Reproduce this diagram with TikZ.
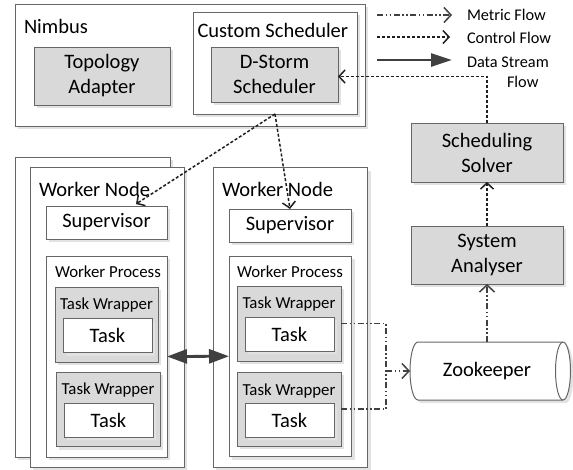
\documentclass[tikz,border=0pt]{standalone}
\usepackage{fontspec}
\setmainfont{Carlito}
\usetikzlibrary{arrows.meta,shadows}
\definecolor{bcol}{HTML}{666666}
\definecolor{gcol}{HTML}{D9D9D9}
\definecolor{shcol}{HTML}{E2E2E2}
\definecolor{lcol}{HTML}{1F1F1F}
\definecolor{dcol}{HTML}{404040}
\newcommand{\rb}[5]{\node[#1, minimum width={(#4)-(#2)}, minimum height={(#5)-(#3)}] at ({((#2)+(#4))/2},{((#3)+(#5))/2})}
\tikzset{
  bigf/.style={font=\fontsize{20.5}{25}\selectfont},
  smallf/.style={font=\fontsize{16.8}{20}\selectfont},
  legf/.style={font=\fontsize{16.3}{20}\selectfont},
  box/.style={draw=bcol, line width=1pt, fill=white, inner sep=0pt, outer sep=0pt,
    align=center, bigf,
    drop shadow={shadow xshift=3pt, shadow yshift=-3pt, fill=shcol, opacity=1}},
  gbox/.style={box, fill=gcol},
  title/.style={inner sep=0pt, outer sep=0pt, anchor=base west, bigf},
  stitle/.style={inner sep=0pt, outer sep=0pt, anchor=base, smallf},
  control/.style={draw=lcol, line width=1.5pt, dash pattern=on 3pt off 2pt,
    -{Straight Barb[length=6pt,width=13pt,line width=1.5pt]}},
  metric/.style={draw=dcol, line width=1.5pt,
    dash pattern=on 6pt off 2.5pt on 1.5pt off 2.5pt on 1.5pt off 2.5pt},
  metricarrow/.style={metric, -{Straight Barb[length=7pt,width=15pt,line width=1.5pt]}},
  datastream/.style={draw=dcol, line width=2.8pt, {Triangle[length=20pt,width=14pt]}-{Triangle[length=20pt,width=14pt]}},
  dataone/.style={draw=dcol, line width=2.8pt, -{Triangle[length=21pt,width=13pt]}},
  legtext/.style={inner sep=0pt, outer sep=0pt, anchor=west, legf, align=left}
}
\begin{document}
\begin{tikzpicture}[x=1pt,y=-1pt]
\useasboundingbox (0,0) rectangle (573,469);

% Nimbus
\rb{box}{15}{4}{365}{126} (nimbus) {};
\node[title] (nimbust) at (24,33.5) {Nimbus};
\rb{gbox}{34}{47}{170}{105} (topo) {Topology\\Adapter};
\rb{box}{193}{12}{357}{114} (cs) {};
\node[title] (cst) at (197.5,37) {Custom Scheduler};
\rb{gbox}{211}{47}{338}{102} (ds) {D-Storm\\Scheduler};

% Legend
\coordinate (m1) at (377,15); \coordinate (m2) at (452,15);
\draw[metricarrow] (m1) -- (m2);
\node[legtext] (lm) at (467,15) {Metric Flow};
\coordinate (c1) at (377,37); \coordinate (c2) at (450,37);
\draw[control] (c1) -- (c2);
\node[legtext] (lc) at (467,38) {Control Flow};
\coordinate (d1) at (377,60); \coordinate (d2) at (452,60);
\draw[dataone] (d1) -- (d2);
\node[legtext] (ld) at (467,72) {Data Stream\\\hspace*{40pt}Flow};

% Solver / Analyser
\rb{gbox}{411}{123}{563}{182} (solver) {Scheduling\\Solver};
\rb{gbox}{411}{226}{563}{284} (an) {System\\Analyser};

% Zookeeper cylinder
\fill[shcol] ([shift={(3pt,-3pt)}]418,342) -- ([shift={(3pt,-3pt)}]563,342)
  arc[start angle=90, end angle=-90, x radius=7.5pt, y radius=29pt]
  -- ([shift={(3pt,-3pt)}]418,400)
  arc[start angle=270, end angle=90, x radius=8pt, y radius=29pt] -- cycle;
\draw[bcol, line width=1pt, fill=white] (418,342) -- (563,342)
  arc[start angle=90, end angle=-90, x radius=7.5pt, y radius=29pt]
  -- (418,400)
  arc[start angle=270, end angle=90, x radius=8pt, y radius=29pt] -- cycle;
\draw[bcol, line width=1pt] (563,342) arc[start angle=90, end angle=270, x radius=7.5pt, y radius=29pt];
\node[inner sep=0pt, outer sep=0pt, minimum width=154pt, minimum height=58pt, bigf] (zk) at (487,371) {Zookeeper};

% Left worker stack
\rb{box}{15}{157}{170}{457} (lback) {};
\rb{box}{30}{167}{184}{467} (lwn) {};
\node[title] (lwnt) at (39,196) {Worker Node};
\rb{box}{46}{206}{167}{239} (lsup) {Supervisor};
\rb{box}{46}{256}{167}{457} (lwp) {};
\node[inner sep=0pt, outer sep=0pt, anchor=base west, smallf] (lwpt) at (55,277) {Worker Process};
\rb{gbox}{55}{287}{158}{362} (ltw1) {};
\node[stitle] (ltw1t) at (106.5,309.5) {Task Wrapper};
\rb{box}{63}{318}{152}{352.5} (lt1) {Task};
\rb{gbox}{56}{372}{160}{446.5} (ltw2) {};
\node[stitle] (ltw2t) at (108,394) {Task Wrapper};
\rb{box}{64}{403}{153}{437} (lt2) {Task};

% Right worker
\rb{box}{213}{167.5}{367.5}{467.5} (rwn) {};
\node[title] (rwnt) at (222,196) {Worker Node};
\rb{box}{229}{209}{351}{242} (rsup) {Supervisor};
\rb{box}{229}{256}{351.5}{456.5} (rwp) {};
\node[inner sep=0pt, outer sep=0pt, anchor=base west, smallf] (rwpt) at (237,277) {Worker Process};
\rb{gbox}{237}{286}{341}{361} (rtw1) {};
\node[stitle] (rtw1t) at (289,308.5) {Task Wrapper};
\rb{box}{245}{317}{334}{351} (rt1) {Task};
\rb{gbox}{237}{372}{341}{446} (rtw2) {};
\node[stitle] (rtw2t) at (289,395) {Task Wrapper};
\rb{box}{245}{403}{334}{437} (rt2) {Task};

% Connectors
\draw[datastream] (lwp.east) -- (rwp.west);
\coordinate (lsupin) at (136,204);
\draw[control] (cs.south) -- (lsupin);
\draw[control] (cs.south) -- (rsup.north);
\draw[control] (solver.north) |- ([yshift=-2pt]ds.east);
\draw[control] (an.north) -- (solver.south);
\draw[metricarrow] (zk.north) -- (an.south);
\coordinate (mj) at (386,371);
\draw[metric] (rtw1.east) -| (mj);
\draw[metric] (rtw2.east) -| (mj);
\draw[metricarrow] (mj) -- (zk.west);
\end{tikzpicture}
\end{document}
